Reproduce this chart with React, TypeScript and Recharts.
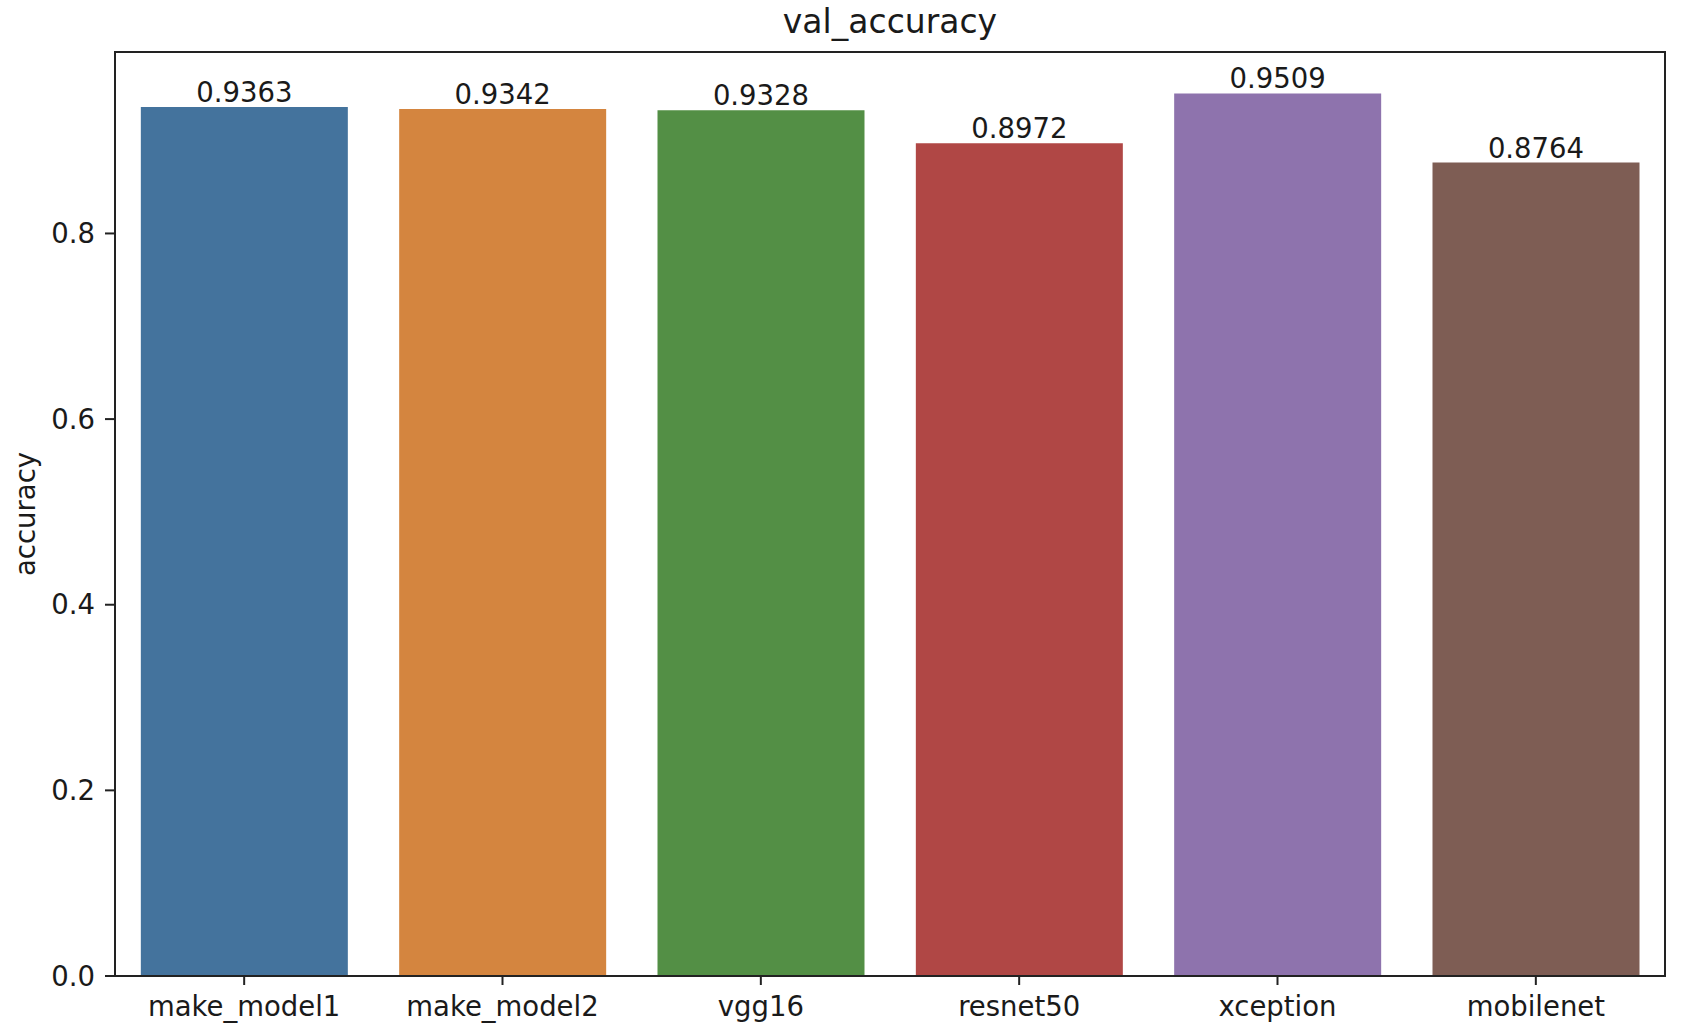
import React from "react";
import { BarChart, Bar, XAxis, YAxis, Cell, LabelList, ReferenceArea, Label } from "recharts";

const models = ["make_model1", "make_model2", "vgg16", "resnet50", "xception", "mobilenet"];
const accuracies = [0.9363, 0.9342, 0.9328, 0.8972, 0.9509, 0.8764];
const yTicks = [0, 0.2, 0.4, 0.6, 0.8];
const palette = ["#44739d", "#d4853f", "#538f45", "#b04745", "#8e73ad", "#7e5d54"];

const data = models.map((m, i) => ({ name: m, value: accuracies[i] }));

const FONT = "'DejaVu Sans', sans-serif";
const TXT = "#1a1a1a";
const AX = "#222222";
const FS = 27.5;
const YMAX = 0.9955;

export default function App() {
  return (
    <div style={{ position: "absolute", left: 0, top: 0, width: 1696, height: 1030, background: "#fff", fontFamily: FONT }}>
      <div
        style={{
          position: "absolute",
          left: 115,
          width: 1550,
          top: 2,
          textAlign: "center",
          fontSize: 33,
          color: TXT,
          fontFamily: FONT,
          lineHeight: "normal",
        }}
      >
        val_accuracy
      </div>
      <BarChart
        width={1696}
        height={1030}
        data={data}
        margin={{ top: 52, right: 31, left: 15, bottom: 13 }}
        barCategoryGap="10%"
        style={{ fontFamily: FONT }}
      >
        <XAxis
          dataKey="name"
          height={41}
          tickSize={9}
          tickMargin={11}
          axisLine={{ stroke: AX, strokeWidth: 2 }}
          tickLine={{ stroke: AX, strokeWidth: 2 }}
          tick={{ fill: TXT, fontSize: FS, fontFamily: FONT }}
          interval={0}
        />
        <YAxis
          type="number"
          domain={[0, YMAX]}
          allowDataOverflow
          ticks={yTicks}
          width={100}
          tickSize={10}
          tickMargin={10}
          tickFormatter={(v: number) => v.toFixed(1)}
          axisLine={{ stroke: AX, strokeWidth: 2 }}
          tickLine={{ stroke: AX, strokeWidth: 2 }}
          tick={{ fill: TXT, fontSize: FS, fontFamily: FONT }}
        >
          <Label
            content={(props: any) => {
              const vb = props.viewBox || { x: 15, y: 52, width: 100, height: 924 };
              const x = vb.x + 10;
              const y = vb.y + vb.height / 2;
              return (
                <text
                  x={x}
                  y={y}
                  transform={`rotate(-90, ${x}, ${y})`}
                  textAnchor="middle"
                  dominantBaseline="central"
                  fontSize={FS}
                  fill={TXT}
                  fontFamily={FONT}
                >
                  accuracy
                </text>
              );
            }}
          />
        </YAxis>
        <Bar dataKey="value" isAnimationActive={false}>
          {data.map((d, i) => (
            <Cell key={d.name} fill={palette[i]} />
          ))}
          <LabelList
            dataKey="value"
            position="top"
            offset={5}
            fill={TXT}
            fontSize={FS}
            fontFamily={FONT}
          />
        </Bar>
        <ReferenceArea y1={0} y2={YMAX} fill="none" stroke={AX} strokeWidth={2} ifOverflow="visible" />
      </BarChart>
    </div>
  );
}
